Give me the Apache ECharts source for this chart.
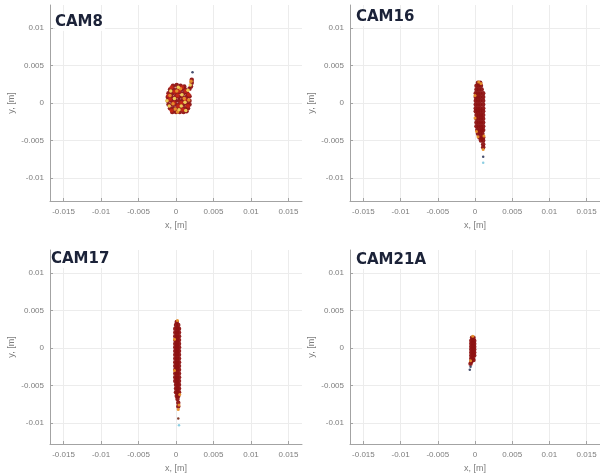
<!DOCTYPE html>
<html><head><meta charset="utf-8">
<script src="https://cdn.jsdelivr.net/npm/echarts@6/dist/echarts.min.js"></script>
<style>html,body{margin:0;padding:0;background:#fff}#c{width:600px;height:474px}</style>
</head><body><div id="c"></div>
<script>
// ---------- data ----------
const panelNames = ['CAM8', 'CAM16', 'CAM17', 'CAM21A'];
const xTickValues = [-0.015, -0.01, -0.005, 0, 0.005, 0.01, 0.015];
const yTickValues = [-0.01, -0.005, 0, 0.005, 0.01];
const xAxisTitle = 'x, [m]';
const yAxisTitle = 'y, [m]';

// CAM8
const cam8Dark = [
  [-0.0004,0.0023],[0.0001,0.0024],[0.0006,0.0023],[0.0011,0.0022],
  [-0.0008,0.0018],[-0.0003,0.0018],[0.0002,0.0019],[0.0007,0.0018],[0.0012,0.0018],[0.0018,0.0019],
  [-0.0010,0.0013],[-0.0005,0.0013],[0.0000,0.0013],[0.0005,0.0014],[0.0010,0.0013],[0.0015,0.0013],
  [-0.0011,0.0008],[-0.0006,0.0008],[-0.0001,0.0008],[0.0004,0.0008],[0.0009,0.0008],[0.0014,0.0008],[0.0018,0.0009],
  [-0.0011,0.0003],[-0.0006,0.0003],[-0.0001,0.0003],[0.0004,0.0003],[0.0009,0.0003],[0.0014,0.0003],[0.0018,0.0003],
  [-0.0010,-0.0002],[-0.0005,-0.0002],[0.0000,-0.0002],[0.0005,-0.0002],[0.0010,-0.0002],[0.0015,-0.0002],[0.0018,-0.0002],
  [-0.0008,-0.0007],[-0.0003,-0.0007],[0.0002,-0.0007],[0.0007,-0.0007],[0.0012,-0.0007],[0.0016,-0.0007],
  [-0.0005,-0.0012],[0.0000,-0.0012],[0.0005,-0.0012],[0.0010,-0.0012],[0.0014,-0.0011],
  [0.0020,0.0022],[0.0021,0.0027],[0.0021,0.0031]
];
const cam8Red = [
  [-0.0006,0.0021],[0.0004,0.0016],[-0.0008,0.0005],[0.0002,0.0010],[0.0012,0.0005],[-0.0003,0.0000],
  [0.0007,0.0000],[0.0017,0.0011],[-0.0006,-0.0010],[0.0009,-0.0009],[0.0003,-0.0004],[-0.0002,0.0015],
  [0.0013,0.0016],[0.0016,-0.0004],[-0.0010,0.0010],[0.0008,0.0021]
];
const cam8Orange = [
  [0.0001,0.0016],[-0.0004,-0.0001],[0.0011,0.0006],[0.0006,0.0019],[-0.0008,0.0010],[0.0017,0.0004],
  [0.0002,-0.0012],[0.0020,0.0029],[-0.0001,-0.0008]
];
const cam8Yellow = [
  [-0.0007,0.0016],[0.0003,0.0021],[-0.0002,0.0006],[0.0008,0.0011],[0.0012,0.0001],[-0.0009,-0.0004],
  [0.0004,-0.0009],[0.0016,0.0017],[0.0019,0.0024],[-0.0012,0.0003],[0.0007,-0.0004],[0.0013,-0.0010]
];
const cam8Outlier = [[0.0022,0.0041]];

// CAM16
const cam16Dark = [
  [0.0004,0.0027],[0.0007,0.0027],
  [0.0002,0.0023],[0.0005,0.0023],[0.0008,0.0023],
  [0.0002,0.0018],[0.0005,0.0018],[0.0009,0.0018],
  [0.0001,0.0013],[0.0004,0.0013],[0.0007,0.0013],[0.0011,0.0013],
  [0.0001,0.0008],[0.0004,0.0008],[0.0007,0.0008],[0.0011,0.0008],
  [0.0001,0.0003],[0.0004,0.0003],[0.0007,0.0003],[0.0011,0.0003],
  [0.0001,-0.0002],[0.0004,-0.0002],[0.0007,-0.0002],[0.0011,-0.0002],
  [0.0001,-0.0007],[0.0004,-0.0007],[0.0007,-0.0007],[0.0011,-0.0007],
  [0.0001,-0.0011],[0.0004,-0.0011],[0.0007,-0.0011],[0.0011,-0.0011],
  [0.0002,-0.0016],[0.0005,-0.0016],[0.0008,-0.0016],[0.0011,-0.0016],
  [0.0002,-0.0021],[0.0005,-0.0021],[0.0008,-0.0021],[0.0011,-0.0021],
  [0.0002,-0.0026],[0.0005,-0.0026],[0.0008,-0.0026],[0.0011,-0.0026],
  [0.0002,-0.0031],[0.0005,-0.0031],[0.0008,-0.0031],[0.0011,-0.0031],
  [0.0003,-0.0036],[0.0006,-0.0036],[0.0009,-0.0036],[0.0011,-0.0036],
  [0.0004,-0.0041],[0.0007,-0.0041],[0.0010,-0.0041],
  [0.0006,-0.0046],[0.0009,-0.0046],[0.0011,-0.0046],
  [0.0008,-0.0050],[0.0011,-0.0050],
  [0.0011,-0.0055],[0.0011,-0.0059]
];
const cam16Orange = [
  [0.0005,0.0028],[0.0000,0.0010],[0.0000,-0.0020],[0.0002,-0.0038],[0.0004,-0.0045],
  [0.0011,-0.0062],[0.0012,-0.0044],[0.0008,0.0026]
];
const cam16Outlier = [[0.0011,-0.0072]];
const cam16Cyan = [[0.0011,-0.0080]];

// CAM17
const cam17Dark = [
  [0.0001,0.0035],
  [0.0000,0.0031],[0.0003,0.0031],
  [-0.0001,0.0026],[0.0002,0.0026],[0.0004,0.0026],
  [-0.0001,0.0021],[0.00015,0.0021],[0.0004,0.0021],
  [-0.0001,0.0016],[0.00015,0.0016],[0.0004,0.0016],
  [-0.0001,0.0011],[0.00015,0.0011],[0.0004,0.0011],
  [-0.0001,0.0006],[0.00015,0.0006],[0.0004,0.0006],
  [-0.0001,0.0001],[0.00015,0.0001],[0.0004,0.0001],
  [-0.0001,-0.0004],[0.00015,-0.0004],[0.0004,-0.0004],
  [-0.0001,-0.0009],[0.00015,-0.0009],[0.0004,-0.0009],
  [-0.0001,-0.0014],[0.00015,-0.0014],[0.0004,-0.0014],
  [-0.0001,-0.0019],[0.00015,-0.0019],[0.0004,-0.0019],
  [-0.0001,-0.0024],[0.00015,-0.0024],[0.0004,-0.0024],
  [-0.0001,-0.0029],[0.00015,-0.0029],[0.0004,-0.0029],
  [-0.0001,-0.0034],[0.00015,-0.0034],[0.0004,-0.0034],
  [-0.0001,-0.0039],[0.00015,-0.0039],[0.0004,-0.0039],
  [-0.0001,-0.0044],[0.00015,-0.0044],[0.0004,-0.0044],
  [0.0000,-0.0049],[0.0002,-0.0049],[0.0004,-0.0049],
  [0.0000,-0.0054],[0.0002,-0.0054],[0.0004,-0.0054],
  [0.0000,-0.0059],[0.0002,-0.0059],[0.0004,-0.0059],
  [0.0001,-0.0064],[0.0003,-0.0064],
  [0.0002,-0.0068],
  [0.0003,-0.0073],[0.0003,-0.0078]
];
const cam17Orange = [
  [0.0002,0.0037],[-0.0002,0.0012],[-0.0002,-0.0030],[0.0004,-0.0076],[0.0003,-0.0082],[0.0005,-0.0062]
];
const cam17Outlier = [[0.0003,-0.0094]];
const cam17Cyan = [[0.0004,-0.0103]];

// CAM21A
const cam21aDark = [
  [-0.0004,0.0014],[-0.0002,0.0014],
  [-0.0005,0.0010],[-0.0003,0.0010],[-0.0001,0.0010],
  [-0.0005,0.0006],[-0.0003,0.0006],[-0.0001,0.0006],
  [-0.0005,0.0002],[-0.0003,0.0002],[-0.0001,0.0002],
  [-0.0005,-0.0002],[-0.0003,-0.0002],[-0.0001,-0.0002],
  [-0.0005,-0.0006],[-0.0003,-0.0006],[-0.0001,-0.0006],
  [-0.0005,-0.0010],[-0.0003,-0.0010],[-0.0001,-0.0010],
  [-0.0005,-0.0014],[-0.0003,-0.0014],[-0.0002,-0.0016],
  [-0.0005,-0.0018],[-0.0006,-0.0021]
];
const cam21aOrange = [[-0.0003,0.0016],[-0.0006,-0.0017]];
const cam21aOutlier = [[-0.0006,-0.0025],[-0.0007,-0.0029]];

// ---------- layout / style ----------
const C = { dark:'#8e1212', red:'#c62616', orange:'#e8922c', yellow:'#f2d55a', cyan:'#86cbe0', navy:'#3b4466', brown:'#7a3020' };
const panels = [
  { left:50,  top:5,   height:196, ymin:-0.0131, ymax:0.0131, tLeft:55,  tTop:14,  groups:[
      [cam8Dark,C.dark,4.5],[cam8Red,C.red,4],[cam8Orange,C.orange,3.5],[cam8Yellow,C.yellow,3.5],[cam8Outlier,C.navy,2.5]] },
  { left:350, top:5,   height:196, ymin:-0.0131, ymax:0.0131, tLeft:356, tTop:9,   groups:[
      [cam16Dark,C.dark,4.5],[cam16Orange,C.orange,3],[cam16Outlier,C.navy,2.5],[cam16Cyan,C.cyan,2.5]] },
  { left:50,  top:250, height:195, ymin:-0.0128, ymax:0.0131, tLeft:51,  tTop:251, groups:[
      [cam17Dark,C.dark,4.5],[cam17Orange,C.orange,3],[cam17Outlier,C.brown,2.5],[cam17Cyan,C.cyan,2.5]] },
  { left:350, top:250, height:195, ymin:-0.0128, ymax:0.0131, tLeft:356, tTop:252, groups:[
      [cam21aDark,C.dark,4.5],[cam21aOrange,C.orange,3],[cam21aOutlier,C.navy,2.5]] }
];
const axisColor = '#a3a3a3', labelColor = '#7d7d7d', gridColor = '#ececec';
const font = 'Liberation Sans';

const grid = [], xAxis = [], yAxis = [], series = [], title = [];
panels.forEach((p, i) => {
  grid.push({ left:p.left, top:p.top, width:252, height:p.height });
  xAxis.push({
    gridIndex:i, type:'value', min:-0.0168, max:0.0168,
    axisLine:{ show:true, onZero:false, lineStyle:{ color:axisColor } },
    axisTick:{ show:true, inside:true, length:3, customValues:xTickValues, lineStyle:{ color:axisColor } },
    axisLabel:{ customValues:xTickValues, formatter:v => String(v), color:labelColor, fontSize:8, margin:7, fontFamily:font },
    splitLine:{ show:true, lineStyle:{ color:gridColor } },
    name:xAxisTitle, nameLocation:'middle', nameGap:20,
    nameTextStyle:{ color:labelColor, fontSize:9, fontFamily:font }
  });
  yAxis.push({
    gridIndex:i, type:'value', min:p.ymin, max:p.ymax,
    axisLine:{ show:true, onZero:false, lineStyle:{ color:axisColor } },
    axisTick:{ show:true, inside:true, length:3, customValues:yTickValues, lineStyle:{ color:axisColor } },
    axisLabel:{ customValues:yTickValues, formatter:v => String(v), color:labelColor, fontSize:8, margin:6, fontFamily:font },
    splitLine:{ show:true, lineStyle:{ color:gridColor } },
    name:yAxisTitle, nameLocation:'middle', nameGap:34,
    nameTextStyle:{ color:labelColor, fontSize:9, fontFamily:font }
  });
  title.push({
    text:panelNames[i], left:p.tLeft, top:p.tTop, padding:[1,2,1,0],
    backgroundColor:'rgba(255,255,255,0.9)',
    textStyle:{ fontFamily:'DejaVu Sans', fontWeight:'bold', fontSize:15, color:'#1b2238' }
  });
  p.groups.forEach(g => {
    series.push({
      type:'scatter', xAxisIndex:i, yAxisIndex:i, data:g[0], symbol:'circle', symbolSize:g[2],
      itemStyle:{ color:g[1], opacity:0.95 }, silent:true, animation:false
    });
  });
});

const chart = echarts.init(document.getElementById('c'), null, { renderer:'canvas' });
chart.setOption({ backgroundColor:'#ffffff', animation:false, title, grid, xAxis, yAxis, series });
</script>
</body></html>
